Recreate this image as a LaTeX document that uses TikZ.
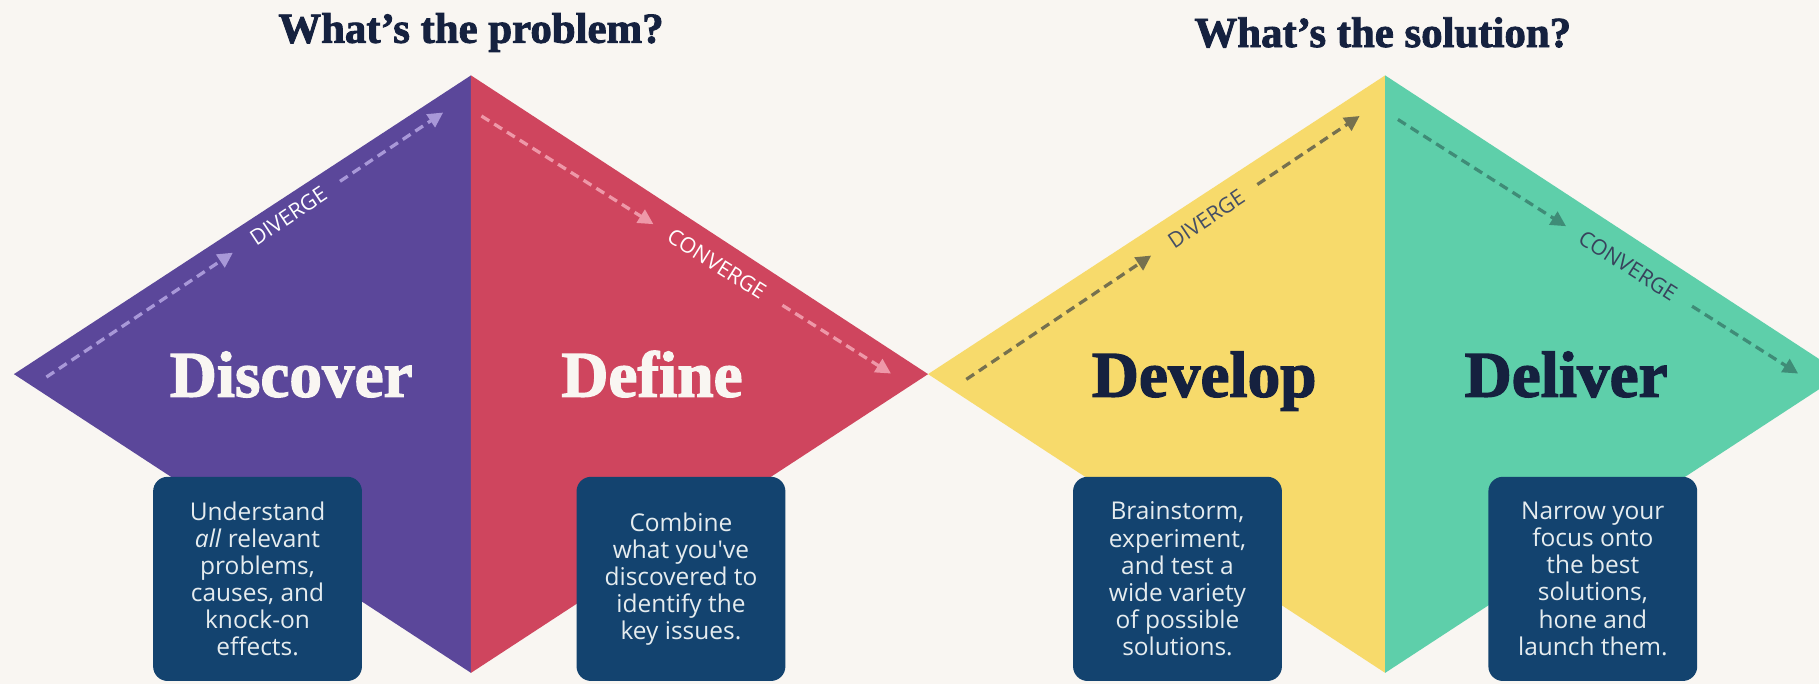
\documentclass[tikz,border=0pt]{standalone}
\usepackage{fontspec}
\usetikzlibrary{arrows.meta,calc}
\setmainfont{Open Sans}
\newfontfamily\headfont{Liberation Serif}[BoldFeatures={FakeBold=2}]
\newfontfamily\tagfont{Open Sans}

\definecolor{cream}{HTML}{F9F6F2}
\definecolor{ink}{HTML}{15213F}
\definecolor{discpurple}{HTML}{5B479A}
\definecolor{defred}{HTML}{CF455E}
\definecolor{devyellow}{HTML}{F7DA6B}
\definecolor{delgreen}{HTML}{5ECFAA}
\definecolor{boxnavy}{HTML}{13436F}
\definecolor{boxtext}{HTML}{E5ECEF}
\definecolor{arrpurple}{HTML}{A898D8}
\definecolor{arrred}{HTML}{EE98A8}
\definecolor{arryellow}{HTML}{76714F}
\definecolor{arrgreen}{HTML}{3F8C77}

\begin{document}
\begin{tikzpicture}[x=2cm,y=2cm,
    title/.style ={font=\headfont\bfseries\fontsize{21}{24}\selectfont, text=ink},
    phase/.style ={font=\headfont\bfseries\fontsize{32}{34}\selectfont, anchor=base},
    note/.style ={rectangle, rounded corners=0.25cm, fill=boxnavy, text=boxtext,
      minimum width=3.6cm, minimum height=3.52cm, align=center,
      font=\fontsize{12}{13.3}\selectfont},
    flow/.style ={dash pattern=on 0.16cm off 0.1cm, line width=1.6pt,
      -{Triangle[length=0.26cm,width=0.26cm]}},
    tag/.style ={font=\tagfont\fontsize{10.5}{10.5}\selectfont, sloped, inner sep=1pt}]
   \useasboundingbox (0,0) rectangle (15.68,5.90);
   \clip (0,0) rectangle (15.68,5.90);
   \fill[cream] (0,0) rectangle (15.68,5.90);
   % the two diamonds
   \coordinate (L1) at (0.12,2.675);  \coordinate (T1) at (4.06,5.25);
   \coordinate (R1) at (8.00,2.675);  \coordinate (B1) at (4.06,0.10);
   \coordinate (L2) at (8.00,2.675);  \coordinate (T2) at (11.94,5.25);
   \coordinate (R2) at (15.88,2.675); \coordinate (B2) at (11.94,0.10);
   \fill[discpurple] (L1) -- (T1) -- (B1) -- cycle;
   \fill[defred] (T1) -- (R1) -- (B1) -- cycle;
   \fill[devyellow] (L2) -- (T2) -- (B2) -- cycle;
   \fill[delgreen] (T2) -- (R2) -- (B2) -- cycle;
   \node[title] (problem)  at (4.06,5.62)  {What’s the problem?};
   \node[title] (solution) at (11.92,5.62) {What’s the solution?};
   % diverge / converge arrows
   \coordinate (div1a) at (0.40,2.65);  \coordinate (div1b) at (3.82,4.93);
   \coordinate (con1a) at (4.15,4.90);  \coordinate (con1b) at (7.68,2.68);
   \coordinate (div2a) at (8.33,2.63);  \coordinate (div2b) at (11.72,4.90);
   \coordinate (con2a) at (12.05,4.87); \coordinate (con2b) at (15.50,2.68);
   \draw[flow, arrpurple] (div1a) -- ($(div1a)!0.47!(div1b)$);
   \draw[flow, arrpurple] ($(div1a)!0.74!(div1b)$) -- (div1b);
   \path (div1a) -- (div1b) node[tag, pos=0.61, text=white] {DIVERGE};
   \draw[flow, arrred] (con1a) -- ($(con1a)!0.42!(con1b)$);
   \draw[flow, arrred] ($(con1a)!0.735!(con1b)$) -- (con1b);
   \path (con1a) -- (con1b) node[tag, pos=0.575, text=white] {CONVERGE};
   \draw[flow, arryellow] (div2a) -- ($(div2a)!0.47!(div2b)$);
   \draw[flow, arryellow] ($(div2a)!0.74!(div2b)$) -- (div2b);
   \path (div2a) -- (div2b) node[tag, pos=0.61, text=ink!80] {DIVERGE};
   \draw[flow, arrgreen] (con2a) -- ($(con2a)!0.42!(con2b)$);
   \draw[flow, arrgreen] ($(con2a)!0.735!(con2b)$) -- (con2b);
   \path (con2a) -- (con2b) node[tag, pos=0.575, text=ink!85] {CONVERGE};
   % phase names
   \node[phase, text=cream] (discover) at (2.51,2.48)  {Discover};
   \node[phase, text=cream] (define)   at (5.62,2.48)  {Define};
   \node[phase, text=ink]   (develop)  at (10.38,2.48) {Develop};
   \node[phase, text=ink]   (deliver)  at (13.50,2.48) {Deliver};
   % notes
   \node[note] (discovernote) at (2.22,0.91)
     {Understand\\\textit{all} relevant\\problems,\\causes, and\\knock-on\\effects.};
   \node[note] (definenote) at (5.87,0.91)
     {Combine\\what you\textquotesingle ve\\discovered to\\identify the\\key issues.};
   \node[note] (developnote) at (10.15,0.91)
     {Brainstorm,\\experiment,\\and test a\\wide variety\\of possible\\solutions.};
   \node[note] (delivernote) at (13.73,0.91)
     {Narrow your\\focus onto\\the best\\solutions,\\hone and\\launch them.};
\end{tikzpicture}
\end{document}
